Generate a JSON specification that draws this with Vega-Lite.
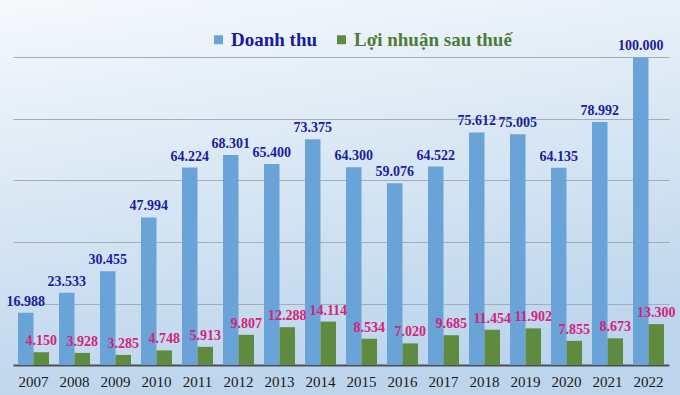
{
  "$schema": "https://vega.github.io/schema/vega-lite/v6.json",
  "width": 680,
  "height": 395,
  "padding": 0,
  "autosize": {"type": "none"},
  "background": "#dce8f4",
  "config": {
    "view": {
      "stroke": null,
      "fill": {
        "gradient": "linear",
        "x1": 0, "y1": 0, "x2": 0.25, "y2": 1,
        "stops": [
          {"offset": 0, "color": "#f6f9fc"},
          {"offset": 0.5, "color": "#d9e7f4"},
          {"offset": 1, "color": "#bdd5ec"}
        ]
      }
    },
    "locale": {"number": {"decimal": ",", "thousands": ".", "grouping": [3], "currency": ["", ""]}}
  },
  "data": {
    "values": [
      {"year": "2007", "series": "Doanh thu", "value": 16988},
      {"year": "2008", "series": "Doanh thu", "value": 23533},
      {"year": "2009", "series": "Doanh thu", "value": 30455},
      {"year": "2010", "series": "Doanh thu", "value": 47994},
      {"year": "2011", "series": "Doanh thu", "value": 64224},
      {"year": "2012", "series": "Doanh thu", "value": 68301},
      {"year": "2013", "series": "Doanh thu", "value": 65400},
      {"year": "2014", "series": "Doanh thu", "value": 73375},
      {"year": "2015", "series": "Doanh thu", "value": 64300},
      {"year": "2016", "series": "Doanh thu", "value": 59076},
      {"year": "2017", "series": "Doanh thu", "value": 64522},
      {"year": "2018", "series": "Doanh thu", "value": 75612},
      {"year": "2019", "series": "Doanh thu", "value": 75005},
      {"year": "2020", "series": "Doanh thu", "value": 64135},
      {"year": "2021", "series": "Doanh thu", "value": 78992},
      {"year": "2022", "series": "Doanh thu", "value": 100000},
      {"year": "2007", "series": "Lợi nhuận sau thuế", "value": 4150},
      {"year": "2008", "series": "Lợi nhuận sau thuế", "value": 3928},
      {"year": "2009", "series": "Lợi nhuận sau thuế", "value": 3285},
      {"year": "2010", "series": "Lợi nhuận sau thuế", "value": 4748},
      {"year": "2011", "series": "Lợi nhuận sau thuế", "value": 5913},
      {"year": "2012", "series": "Lợi nhuận sau thuế", "value": 9807},
      {"year": "2013", "series": "Lợi nhuận sau thuế", "value": 12288},
      {"year": "2014", "series": "Lợi nhuận sau thuế", "value": 14114},
      {"year": "2015", "series": "Lợi nhuận sau thuế", "value": 8534},
      {"year": "2016", "series": "Lợi nhuận sau thuế", "value": 7020},
      {"year": "2017", "series": "Lợi nhuận sau thuế", "value": 9685},
      {"year": "2018", "series": "Lợi nhuận sau thuế", "value": 11454},
      {"year": "2019", "series": "Lợi nhuận sau thuế", "value": 11902},
      {"year": "2020", "series": "Lợi nhuận sau thuế", "value": 7855},
      {"year": "2021", "series": "Lợi nhuận sau thuế", "value": 8673},
      {"year": "2022", "series": "Lợi nhuận sau thuế", "value": 13300}
    ]
  },
  "layer": [
    {
      "mark": {"type": "bar"},
      "encoding": {
        "x": {
          "field": "year", "type": "nominal",
          "scale": {"range": [13, 669], "paddingInner": 0.244, "paddingOuter": 0.122},
          "axis": {
            "title": null, "orient": "bottom", "offset": -30, "labelAngle": 0,
            "ticks": false, "labelPadding": 9,
            "labelFont": "Liberation Serif", "labelFontSize": 15, "labelColor": "#1a1a1a",
            "domainColor": "#4d4f52", "domainWidth": 2
          }
        },
        "xOffset": {"field": "series", "type": "nominal", "sort": ["Doanh thu", "Lợi nhuận sau thuế"]},
        "y": {
          "field": "value", "type": "quantitative",
          "scale": {"domain": [-9756, 118699], "nice": false, "zero": false},
          "axis": {
            "title": null, "labels": false, "ticks": false, "domain": false,
            "values": [20000, 40000, 60000, 80000, 100000],
            "grid": true, "gridColor": "#a3adb8", "gridWidth": 1
          }
        },
        "color": {
          "field": "series", "type": "nominal",
          "sort": ["Doanh thu", "Lợi nhuận sau thuế"],
          "scale": {"domain": ["Doanh thu", "Lợi nhuận sau thuế"], "range": ["#6aa3d8", "#5e8b3f"]},
          "legend": {
            "title": null, "orient": "none", "direction": "horizontal",
            "legendX": 209, "legendY": 30,
            "symbolType": "square", "symbolSize": 81, "symbolStrokeWidth": 0,
            "labelFont": "Liberation Serif", "labelFontSize": 19, "labelFontWeight": "bold",
            "labelOffset": 3, "columnPadding": 14, "labelLimit": 300,
            "encode": {
              "labels": {"update": {"fill": {"signal": "datum.value === 'Doanh thu' ? '#1a1a9e' : '#4f7b36'"}}}
            }
          }
        }
      }
    },
    {
      "mark": {"type": "text", "baseline": "bottom", "dy": -4, "font": "Liberation Serif", "fontSize": 14, "fontWeight": "bold"},
      "encoding": {
        "x": {"field": "year", "type": "nominal"},
        "xOffset": {"field": "series", "type": "nominal", "sort": ["Doanh thu", "Lợi nhuận sau thuế"]},
        "y": {"field": "value", "type": "quantitative"},
        "text": {"field": "value", "type": "quantitative", "format": ",d"},
        "color": {
          "condition": {"test": "datum.series === 'Doanh thu'", "value": "#1c1c9e"},
          "value": "#d4237a"
        }
      }
    }
  ]
}
